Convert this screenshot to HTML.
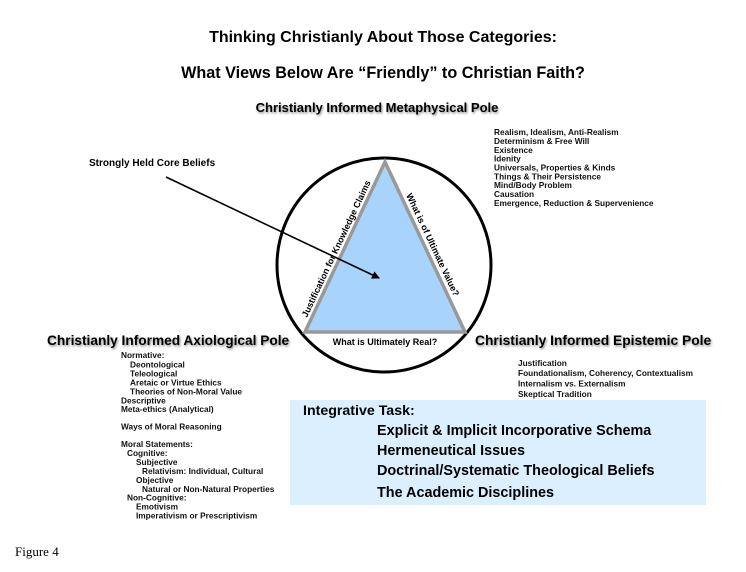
<!DOCTYPE html>
<html><head><meta charset="utf-8"><style>
html,body{margin:0;padding:0;background:#fff;}
svg{display:block;font-family:"Liberation Sans",Arial,sans-serif;font-weight:bold;}
.s{font-size:8.3px;fill:#111;}
</style></head><body>
<svg width="746" height="572" viewBox="0 0 746 572" xmlns="http://www.w3.org/2000/svg">
<defs>
<filter id="sh" x="-5%" y="-30%" width="110%" height="160%"><feDropShadow dx="1" dy="1.5" stdDeviation="1" flood-color="#000" flood-opacity="0.45"/></filter>
<marker id="ah" markerWidth="8" markerHeight="8" refX="7" refY="4" orient="auto" markerUnits="userSpaceOnUse"><path d="M0,0 L8,4 L0,8 z" fill="#000"/></marker>
</defs>
<text x="383" y="42" font-size="16" text-anchor="middle">Thinking Christianly About Those Categories:</text>
<text x="383" y="78" font-size="16.2" text-anchor="middle">What Views Below Are “Friendly” to Christian Faith?</text>
<text x="377" y="112" font-size="13" text-anchor="middle" filter="url(#sh)">Christianly Informed Metaphysical Pole</text>

<rect x="290" y="400" width="416" height="105" fill="#dcefff"/>

<circle cx="384" cy="265" r="107" fill="none" stroke="#000" stroke-width="3"/>
<polygon points="385,162 305,332 465,332" fill="#a8d4fb" stroke="#999" stroke-width="3.5"/>

<line x1="166" y1="177" x2="379" y2="278" stroke="#000" stroke-width="1.6" marker-end="url(#ah)"/>
<text x="89" y="166" font-size="10">Strongly Held Core Beliefs</text>

<text transform="translate(339,250) rotate(-64.8)" font-size="9" text-anchor="middle">Justification for Knowledge Claims</text>
<text transform="translate(430,246) rotate(64.8)" font-size="9" text-anchor="middle">What is of Ultimate Value?</text>
<text x="385" y="345" font-size="9" text-anchor="middle">What is Ultimately Real?</text>

<g class="s">
<text x="494" y="135">Realism, Idealism, Anti-Realism</text>
<text x="494" y="144">Determinism &amp; Free Will</text>
<text x="494" y="153">Existence</text>
<text x="494" y="161.5">Idenity</text>
<text x="494" y="170.5">Universals, Properties &amp; Kinds</text>
<text x="494" y="179.5">Things &amp; Their Persistence</text>
<text x="494" y="188">Mind/Body Problem</text>
<text x="494" y="197">Causation</text>
<text x="494" y="206">Emergence, Reduction &amp; Supervenience</text>
</g>

<text x="47" y="345" font-size="13.7" filter="url(#sh)">Christianly Informed Axiological Pole</text>
<text x="475" y="345" font-size="13.8" filter="url(#sh)">Christianly Informed Epistemic Pole</text>

<g class="s">
<text x="121" y="358">Normative:</text>
<text x="130" y="367.5">Deontological</text>
<text x="130" y="376.5">Teleological</text>
<text x="130" y="385.5">Aretaic or Virtue Ethics</text>
<text x="130" y="394.5">Theories of Non-Moral Value</text>
<text x="121" y="403.5">Descriptive</text>
<text x="121" y="412">Meta-ethics (Analytical)</text>
<text x="121" y="429.5">Ways of Moral Reasoning</text>
<text x="121" y="447">Moral Statements:</text>
<text x="127" y="456">Cognitive:</text>
<text x="136" y="465">Subjective</text>
<text x="142" y="474">Relativism: Individual, Cultural</text>
<text x="136" y="483">Objective</text>
<text x="142" y="492">Natural or Non-Natural Properties</text>
<text x="127" y="500.5">Non-Cognitive:</text>
<text x="136" y="509.5">Emotivism</text>
<text x="136" y="518.5">Imperativism or Prescriptivism</text>
</g>

<g class="s">
<text x="518" y="366">Justification</text>
<text x="518" y="376">Foundationalism, Coherency, Contextualism</text>
<text x="518" y="386.5">Internalism vs. Externalism</text>
<text x="518" y="397">Skeptical Tradition</text>
</g>

<text x="303" y="415" font-size="14.2">Integrative Task:</text>
<g font-size="14.4">
<text x="377" y="435">Explicit &amp; Implicit Incorporative Schema</text>
<text x="377" y="455">Hermeneutical Issues</text>
<text x="377" y="475">Doctrinal/Systematic Theological Beliefs</text>
<text x="377" y="497">The Academic Disciplines</text>
</g>

<text x="15" y="556" font-size="13" font-weight="normal" font-family="Liberation Serif,serif">Figure 4</text>
</svg>
</body></html>
